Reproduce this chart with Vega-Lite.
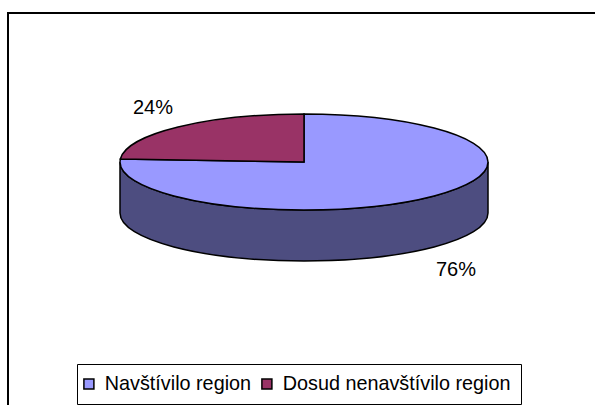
{
  "$schema": "https://vega.github.io/schema/vega-lite/v6.json",
  "width": 592,
  "height": 396,
  "padding": {"left": 8, "top": 13, "right": 0, "bottom": 0},
  "autosize": "none",
  "background": "white",
  "view": {"stroke": "black", "strokeWidth": 2, "fill": "white"},
  "data": {"values": [
    {"kategorie": "Navštívilo region", "podil": 76, "popisek": "76%"},
    {"kategorie": "Dosud nenavštívilo region", "podil": 24, "popisek": "24%"}
  ]},
  "layer": [
    {
      "transform": [{"filter": "datum.podil == 76"}],
      "mark": {"type": "point", "filled": true, "fill": "#4D4D80", "stroke": "black", "strokeWidth": 1.5, "opacity": 1, "size": 135424, "yOffset": -49,
        "shape": "M-1 0 L-1 .277 C-1 .4211 -.5523 .5379 0 .5379 C.5523 .5379 1 .4211 1 .277 L1 0 C1 .14407 .5523 .26087 0 .26087 C-.5523 .26087 -1 .14407 -1 0 Z"},
      "encoding": {}
    },
    {
      "mark": {"type": "point", "filled": true, "stroke": "black", "strokeWidth": 1.5, "opacity": 1, "size": 135424, "yOffset": -49},
      "encoding": {
        "color": {
          "field": "kategorie", "type": "nominal", "sort": null,
          "scale": {"domain": ["Navštívilo region", "Dosud nenavštívilo region"], "range": ["#9999FF", "#993366"]},
          "legend": {
            "title": null, "orient": "none", "legendX": 69, "legendY": 351, "direction": "horizontal", "columns": 2,
            "strokeColor": "black", "fillColor": "white", "padding": 10,
            "symbolType": "square", "symbolSize": 100, "symbolStrokeColor": "black", "symbolStrokeWidth": 1.5, "symbolOpacity": 1, "symbolOffset": -8,
            "labelFont": "Liberation Sans", "labelFontSize": 19.8, "labelColor": "black", "labelLimit": 400, "columnPadding": 6, "labelOffset": 6
          }
        },
        "shape": {
          "field": "podil", "type": "nominal", "sort": null, "legend": null,
          "scale": {"domain": [76, 24], "range": [
            "M0 0 L-.998 -.01638 L-1 0 C-1 .14407 -.5523 .26087 0 .26087 C.5523 .26087 1 .14407 1 0 C1 -.14407 .5523 -.26087 0 -.26087 Z",
            "M0 0 L0 -.26087 C-.5279 -.26087 -.9648 -.1538 -.998 -.01638 Z"
          ]}
        }
      }
    },
    {
      "mark": {"type": "text", "font": "Liberation Sans", "fontSize": 20, "color": "black", "align": "center", "baseline": "middle"},
      "encoding": {
        "text": {"field": "popisek", "type": "nominal"},
        "x": {"field": "kategorie", "type": "nominal", "sort": null, "axis": null, "scale": {"type": "point", "padding": 0, "domain": ["Navštívilo region", "Dosud nenavštívilo region"], "range": [448, 145]}},
        "y": {"field": "kategorie", "type": "nominal", "sort": null, "axis": null, "scale": {"type": "point", "padding": 0, "domain": ["Navštívilo region", "Dosud nenavštívilo region"], "range": [257, 95]}}
      }
    }
  ]
}
